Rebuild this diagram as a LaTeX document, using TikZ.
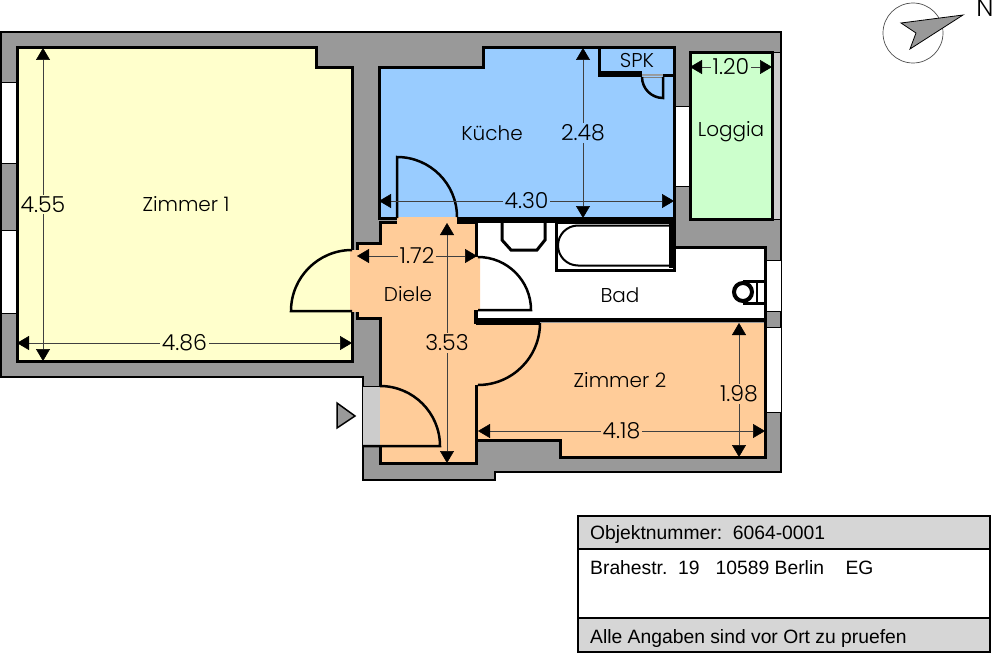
\documentclass[tikz,border=0pt]{standalone}
\usepackage{fontspec}
\usepackage{xcolor}
\setmainfont{Liberation Sans}
\newfontfamily\planfont[UprightFont=* Light]{Poppins}
\usetikzlibrary{arrows.meta}

\definecolor{wallgray}{HTML}{999999}
\definecolor{zimmeryellow}{HTML}{FFFFCC}
\definecolor{kuecheblue}{HTML}{99CCFF}
\definecolor{loggiagreen}{HTML}{CCFFCC}
\definecolor{dieleorange}{HTML}{FFCC99}
\definecolor{stripgray}{HTML}{CCCCCC}
\definecolor{boxgray}{HTML}{D6D6D6}

\begin{document}
\begin{tikzpicture}[x=1pt, y=-1pt,
    wall/.style={line width=3pt, line join=miter},
    thinwall/.style={line width=1pt},
    door/.style={line width=2.5pt},
    dimline/.style={line width=0.5pt, black!75, {Triangle[length=12pt,width=14pt,black]}-{Triangle[length=12pt,width=14pt,black]}},
    roomlabel/.style={font=\planfont\fontsize{20}{20}\selectfont, inner sep=0pt},
    dimlabel/.style={font=\planfont\fontsize{22}{22}\selectfont, inner sep=1.5pt, text=black},
    boxlabel/.style={font=\fontsize{19.3}{19.3}\selectfont, anchor=base west, inner sep=0pt}]
    \useasboundingbox (0,0) rectangle (999,669);

    % Outer walls
    \filldraw[fill=wallgray, line width=2.5pt] (1,32) -- (781,32) -- (781,472) -- (495,472) -- (495,480)
        -- (363,480) -- (363,377) -- (1,377) -- cycle;

    % Windows
    \filldraw[fill=white, thinwall] (1,83) rectangle (17,163);
    \filldraw[fill=white, thinwall] (1,230) rectangle (17,313);
    \filldraw[fill=white, thinwall] (675,106) rectangle (690,186);
    \filldraw[fill=white, thinwall] (765,260) rectangle (781,311);
    \filldraw[fill=white, thinwall] (765,327) rectangle (781,412);

    % Room floors
    \fill[zimmeryellow] (17,48) -- (316,48) -- (316,68) -- (352,68) -- (352,361) -- (17,361) -- cycle;
    \fill[kuecheblue] (379,68) -- (483,68) -- (483,48) -- (599,48) -- (599,76) -- (674,76) -- (674,218) -- (379,218) -- cycle;
    \fill[kuecheblue] (601,48) rectangle (674,74);
    \fill[white] (478,222) -- (674,222) -- (674,247) -- (765,247) -- (765,320) -- (478,320) -- cycle;
    \fill[dieleorange] (478,323) -- (765,323) -- (765,457) -- (560,457) -- (560,440) -- (478,440) -- cycle;
    \fill[loggiagreen] (690,53) rectangle (772,219);
    \fill[stripgray] (772,53) rectangle (780,219);

    % Diele with its door openings
    \fill[dieleorange] (380,223) -- (397,223) -- (397,217) -- (457,217) -- (457,223) -- (476,223) -- (476,257) -- (480,257)
        -- (480,310) -- (476,310) -- (476,323) -- (480,323) -- (480,385) -- (476,385) -- (476,463) -- (380,463)
        -- (380,318) -- (357,318) -- (357,312) -- (350,312) -- (350,250) -- (357,250) -- (357,243) -- (380,243) -- cycle;

    % Entrance
    \fill[stripgray] (363,386) rectangle (380,446);

    % Walls of Zimmer 1
    \draw[wall] (352,250) -- (352,68) -- (316,68) -- (316,48) -- (17,48) -- (17,361) -- (352,361) -- (352,312);

    % Walls of the Kueche and SPK
    \draw[wall] (397,218) -- (379,218) -- (379,68) -- (483,68) -- (483,48) -- (599,48) -- (599,76) -- (642,76);
    \draw[wall] (601,48) -- (674,48) -- (674,218) -- (457,218);
    \draw[wall] (601,73) -- (642,73);
    \draw[wall] (663,76) -- (674,76);
    \draw[thinwall, gray] (642,78) -- (663,78);

    % Walls of the Diele
    \draw[wall] (397,222) -- (380,222) -- (380,243) -- (357,243) -- (357,250);
    \draw[wall] (357,312) -- (357,318) -- (380,318) -- (380,386);
    \draw[wall] (380,446) -- (380,463) -- (476,463) -- (476,385);
    \draw[wall] (457,222) -- (476,222) -- (476,257);
    \draw[wall, line width=4pt] (476,310) -- (476,324);

    % Walls of the Bad
    \draw[wall, line width=4pt] (457,220.5) -- (676,220.5);
    \draw[wall] (674,222) -- (674,247) -- (765,247) -- (765,320);
    \draw[wall, line width=4.5pt] (476,320) -- (766,320);
    \draw[wall, line width=6pt] (476,322) -- (540,322);

    % Walls of Zimmer 2
    \draw[wall] (478,440) -- (560,440) -- (560,457) -- (765,457) -- (765,320);

    % Walls of the Loggia
    \draw[wall] (772,53) -- (690,53) -- (690,219) -- (772,219) -- cycle;
    \draw[thinwall] (772,53) -- (781,53);
    \draw[thinwall] (772,219) -- (781,219);

    % Bad fittings
    \draw[wall] (502,222) -- (502,240) -- (511,250) -- (537,250) -- (545,240) -- (545,222);
    \draw[wall] (556,222) rectangle (674,270);
    \draw[line width=2pt] (674,225.5) -- (578,225.5) arc[start angle=-90, end angle=-270, radius=20] -- (674,265.5);
    \draw[wall, line width=4pt] (671,224) -- (671,268);
    \draw[wall] (764,281) -- (743,281) (743,303) -- (764,303);
    \draw[line width=1.5pt] (757,281) -- (757,303);
    \draw[line width=4pt] (743,292) circle[radius=9];

    % Doors
    \draw[door] (352,250) arc[start angle=-90, end angle=-180, radius=61] -- (352,311);
    \draw[door] (397,218) -- (397,157) arc[start angle=-90, end angle=0, radius=60];
    \draw[door] (478,257) arc[start angle=-90, end angle=0, radius=53] -- (478,310);
    \draw[door] (540,323) arc[start angle=0, end angle=90, radius=62];
    \draw[door] (380,386) arc[start angle=-90, end angle=0, radius=60] -- (363,446);
    \draw[thinwall] (363,386) -- (380,386);
    \draw[door] (642,77) arc[start angle=180, end angle=90, radius=21] -- (663,77);

    % Entrance mark
    \filldraw[fill=wallgray, line width=1.5pt] (337,403) -- (355,416) -- (337,428) -- cycle;

    % Dimensions
    \draw[dimline] (17,343) -- (352,343) node[midway, dimlabel, fill=zimmeryellow] (D486) {4.86};
    \draw[dimline] (43,48) -- (43,361) node[pos=0.5, dimlabel, fill=zimmeryellow] (D455) {4.55};
    \draw[dimline] (583,48) -- (583,218) node[midway, dimlabel, fill=kuecheblue] (D248) {2.48};
    \draw[dimline] (379,201) -- (674,201) node[pos=0.5, dimlabel, fill=kuecheblue] (D430) {4.30};
    \draw[dimline] (690,67) -- (772,67) node[midway, dimlabel, fill=loggiagreen] (D120) {1.20};
    \draw[dimline] (447,223) -- (447,463) node[pos=0.5, dimlabel, fill=dieleorange] (D353) {3.53};
    \draw[dimline] (357,256) -- (477,256) node[midway, dimlabel, fill=dieleorange] (D172) {1.72};
    \draw[dimline] (739,323) -- (739,457) node[pos=0.53, dimlabel, fill=dieleorange] (D198) {1.98};
    \draw[dimline] (478,431) -- (765,431) node[pos=0.5, dimlabel, fill=dieleorange] (D418) {4.18};

    % Room names
    \node[roomlabel] (Z1) at (186,204) {Zimmer 1};
    \node[roomlabel] (KU) at (492,133) {Küche};
    \node[roomlabel] (SP) at (637,60) {SPK};
    \node[roomlabel] (LO) at (731,132) {Loggia};
    \node[roomlabel] (DI) at (408,294) {Diele};
    \node[roomlabel] (BA) at (620,295) {Bad};
    \node[roomlabel] (Z2) at (620,380) {Zimmer 2};

    % North arrow
    \draw[line width=0.7pt, black!70] (913,33) circle[radius=30];
    \filldraw[fill=wallgray, line width=0.8pt] (963,15) -- (901,23) -- (916,33) -- (910,49) -- cycle;
    \node[roomlabel, font=\planfont\fontsize{25}{25}\selectfont] (NO) at (985,8) {N};

    % Title box
    \filldraw[fill=boxgray, line width=2pt] (578,516) rectangle (990,652);
    \filldraw[fill=white, line width=2pt] (578,549) rectangle (990,618);
    \node[boxlabel] (T1) at (590,539) {Objektnummer:\ \ 6064-0001};
    \node[boxlabel] (T2) at (590,574) {Brahestr.\ \ 19\ \ \ 10589 Berlin\ \ \ \ EG};
    \node[boxlabel] (T3) at (590,643) {Alle Angaben sind vor Ort zu pruefen};
\end{tikzpicture}
\end{document}
